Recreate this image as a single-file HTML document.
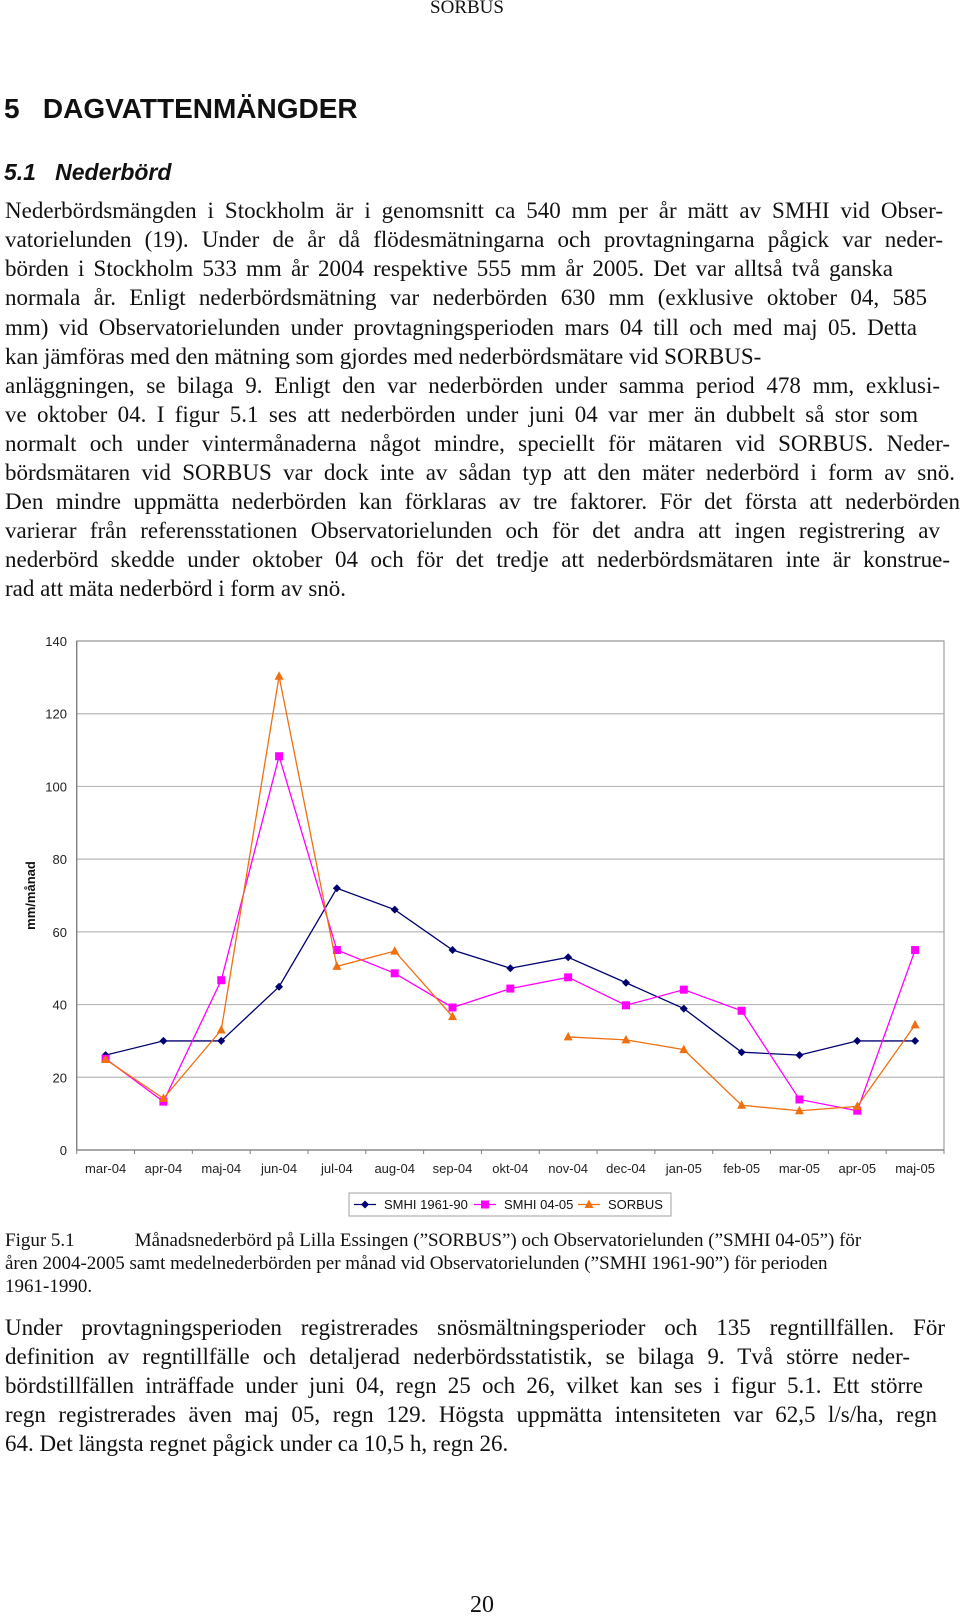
<!DOCTYPE html>
<html><head><meta charset="utf-8">
<style>
body{margin:0;background:#fff;}
#page{position:relative;width:960px;height:1616px;overflow:hidden;background:#fff;font-family:"Liberation Serif",serif;color:#111;}
.ln{position:absolute;left:5px;width:938px;font-size:23px;line-height:29px;height:29px;white-space:nowrap;text-align:justify;text-align-last:justify;}
.ln.last{text-align-last:left;}
.cap{position:absolute;left:5px;width:938px;font-size:19px;line-height:23px;white-space:nowrap;}
</style></head><body>
<div id="page">
<div style="position:absolute;left:0;width:934px;top:-3px;text-align:center;font-size:19px;">SORBUS</div>
<div style="position:absolute;left:4px;top:93px;font-family:'Liberation Sans',sans-serif;font-weight:bold;font-size:28px;">5&nbsp;&nbsp;&nbsp;DAGVATTENMÄNGDER</div>
<div style="position:absolute;left:4px;top:159px;font-family:'Liberation Sans',sans-serif;font-weight:bold;font-style:italic;font-size:23px;">5.1&nbsp;&nbsp;&nbsp;Nederbörd</div>
<div>
<div class="ln" style="top:196px">Nederbördsmängden i Stockholm är i genomsnitt ca 540 mm per år mätt av SMHI vid Obser-</div>
<div class="ln" style="top:225px">vatorielunden (19). Under de år då flödesmätningarna och provtagningarna pågick var neder-</div>
<div class="ln" style="top:254px;width:888px">börden i Stockholm 533 mm år 2004 respektive 555 mm år 2005. Det var alltså två ganska</div>
<div class="ln" style="top:283px;width:922px">normala år. Enligt nederbördsmätning var nederbörden 630 mm (exklusive oktober 04, 585</div>
<div class="ln" style="top:313px;width:912px">mm) vid Observatorielunden under provtagningsperioden mars 04 till och med maj 05. Detta</div>
<div class="ln last" style="top:342px">kan jämföras med den mätning som gjordes med nederbördsmätare vid SORBUS-</div>
<div class="ln" style="top:371px;width:935px">anläggningen, se bilaga 9. Enligt den var nederbörden under samma period 478 mm, exklusi-</div>
<div class="ln" style="top:400px;width:913px">ve oktober 04. I figur 5.1 ses att nederbörden under juni 04 var mer än dubbelt så stor som</div>
<div class="ln" style="top:429px;width:945px">normalt och under vintermånaderna något mindre, speciellt för mätaren vid SORBUS. Neder-</div>
<div class="ln" style="top:458px;width:950px">bördsmätaren vid SORBUS var dock inte av sådan typ att den mäter nederbörd i form av snö.</div>
<div class="ln" style="top:487px;width:955px">Den mindre uppmätta nederbörden kan förklaras av tre faktorer. För det första att nederbörden</div>
<div class="ln" style="top:516px;width:935px">varierar från referensstationen Observatorielunden och för det andra att ingen registrering av</div>
<div class="ln" style="top:545px;width:945px">nederbörd skedde under oktober 04 och för det tredje att nederbördsmätaren inte är konstrue-</div>
<div class="ln last" style="top:574px">rad att mäta nederbörd i form av snö.</div>
</div>

<svg id="chart" style="position:absolute;left:0;top:0" width="960" height="1616" font-family="Liberation Sans, sans-serif">
<g id="grid"></g><g id="axes"></g><g id="series"></g><g id="legend"></g>
</svg>

<div>
<div class="cap" style="top:1229px">Figur 5.1<span style="display:inline-block;width:60px"></span>Månadsnederbörd på Lilla Essingen (”SORBUS”) och Observatorielunden (”SMHI 04-05”) för</div>
<div class="cap" style="top:1252px">åren 2004-2005 samt medelnederbörden per månad vid Observatorielunden (”SMHI 1961-90”) för perioden</div>
<div class="cap" style="top:1275px">1961-1990.</div>
</div>
<div>
<div class="ln" style="top:1313px;width:940px">Under provtagningsperioden registrerades snösmältningsperioder och 135 regntillfällen. För</div>
<div class="ln" style="top:1342px;width:905px">definition av regntillfälle och detaljerad nederbördsstatistik, se bilaga 9. Två större neder-</div>
<div class="ln" style="top:1371px;width:918px">bördstillfällen inträffade under juni 04, regn 25 och 26, vilket kan ses i figur 5.1. Ett större</div>
<div class="ln" style="top:1400px;width:932px">regn registrerades även maj 05, regn 129. Högsta uppmätta intensiteten var 62,5 l/s/ha, regn</div>
<div class="ln last" style="top:1429px">64. Det längsta regnet pågick under ca 10,5 h, regn 26.</div>
</div>
<div style="position:absolute;left:0;width:964px;top:1592px;text-align:center;font-size:24px;">20</div>
</div>
<script>
const categories=["mar-04","apr-04","maj-04","jun-04","jul-04","aug-04","sep-04","okt-04","nov-04","dec-04","jan-05","feb-05","mar-05","apr-05","maj-05"];
const smhi6190=[26.1,30,30,44.9,72,66.1,55,50,53,46,38.9,26.9,26.1,30,30];
const smhi0405=[25.1,13.3,46.7,108.3,55,48.6,39.2,44.4,47.5,39.8,44.1,38.3,13.9,10.8,55];
const sorbus=[24.9,14.2,33,130.3,50.5,54.7,36.7,null,31.1,30.3,27.6,12.3,10.8,12,34.4];
const yTicks=[0,20,40,60,80,100,120,140];
const seriesNames=["SMHI 1961-90","SMHI 04-05","SORBUS"];

const NS="http://www.w3.org/2000/svg";
const L=76.7,R=944,T=641,B=1150,YMAX=140;
const bw=(R-L)/categories.length;
function xs(i){return L+bw*(i+0.5);}
function ys(v){return B-(v/YMAX)*(B-T);}
function mk(tag,attrs,parent){const e=document.createElementNS(NS,tag);for(const k in attrs)e.setAttribute(k,attrs[k]);parent.appendChild(e);return e;}
const grid=document.getElementById('grid'),axes=document.getElementById('axes'),ser=document.getElementById('series'),leg=document.getElementById('legend');
yTicks.forEach(t=>{
  if(t>0){const g=mk('line',{x1:L,x2:R,y1:ys(t),y2:ys(t),stroke:'#b8b8b8','stroke-width':1.2},grid);
  
  }
  const tx=mk('text',{x:67,y:ys(t)+5,'text-anchor':'end','font-size':13,fill:'#222'},axes);
  tx.textContent=t;
  
  
});
const frame=mk('rect',{x:L,y:T,width:R-L,height:B-T,fill:'none',stroke:'#a0a0a0','stroke-width':1.2},axes);


const xa=mk('line',{x1:L,x2:R,y1:B,y2:B,stroke:'#808080','stroke-width':1.3},axes);


const ya=mk('line',{x1:L,x2:L,y1:T,y2:B,stroke:'#808080','stroke-width':1.3},axes);


for(let i=0;i<=categories.length;i++){const tk=mk('line',{x1:L+bw*i,x2:L+bw*i,y1:B,y2:B+4,stroke:'#808080'},axes);

}
categories.forEach((c,i)=>{const tx=mk('text',{x:xs(i),y:B+23,'text-anchor':'middle','font-size':13,fill:'#222'},axes);
tx.textContent=c;

});
const yt=mk('text',{x:0,y:0,transform:'translate(35,'+((T+B)/2)+') rotate(-90)','text-anchor':'middle','font-size':13,'font-weight':'bold',fill:'#111'},axes);
yt.textContent='mm/månad';



function marker(type,x,y,color,parent){
  let e;
  if(type==='d') e=mk('polygon',{points:`${x},${y-4} ${x+4},${y} ${x},${y+4} ${x-4},${y}`,fill:color},parent);
  else if(type==='s') e=mk('rect',{x:x-4,y:y-4,width:8,height:8,fill:color},parent);
  else e=mk('polygon',{points:`${x},${y-5} ${x+4.5},${y+3.5} ${x-4.5},${y+3.5}`,fill:color},parent);
  return e;
}
const defs=[[smhi6190,'#000070','d','smhi-1961-90'],[smhi0405,'#ff00ff','s','smhi-04-05'],[sorbus,'#f07010','t','sorbus']];
defs.forEach(([data,color,m,name])=>{
  const g=mk('g',{},ser);
  
  
  let segs=[],cur=[];
  data.forEach((v,i)=>{if(v==null){if(cur.length)segs.push(cur);cur=[];}else cur.push(xs(i)+','+ys(v));});
  if(cur.length)segs.push(cur);
  segs.forEach(s=>{const pl=mk('polyline',{points:s.join(' '),fill:'none',stroke:color,'stroke-width':1.3},g);
  
  });
  data.forEach((v,i)=>{if(v==null)return;const p=marker(m,xs(i),ys(v),color,g);
  
  });
});
const lb=mk('rect',{x:349,y:1193,width:322,height:23,fill:'#fff',stroke:'#a0a0a0'},leg);


const lx=[354,474,578];
defs.forEach(([d,color,m,name],k)=>{
  const g=mk('g',{},leg);
  
  
  mk('line',{x1:lx[k],x2:lx[k]+22,y1:1204.5,y2:1204.5,stroke:color,'stroke-width':1.3},g);
  marker(m,lx[k]+11,1204.5,color,g);
  const t=mk('text',{x:lx[k]+30,y:1209,'font-size':13,fill:'#111'},g);
  t.textContent=seriesNames[k];
});
</script>
</body></html>
